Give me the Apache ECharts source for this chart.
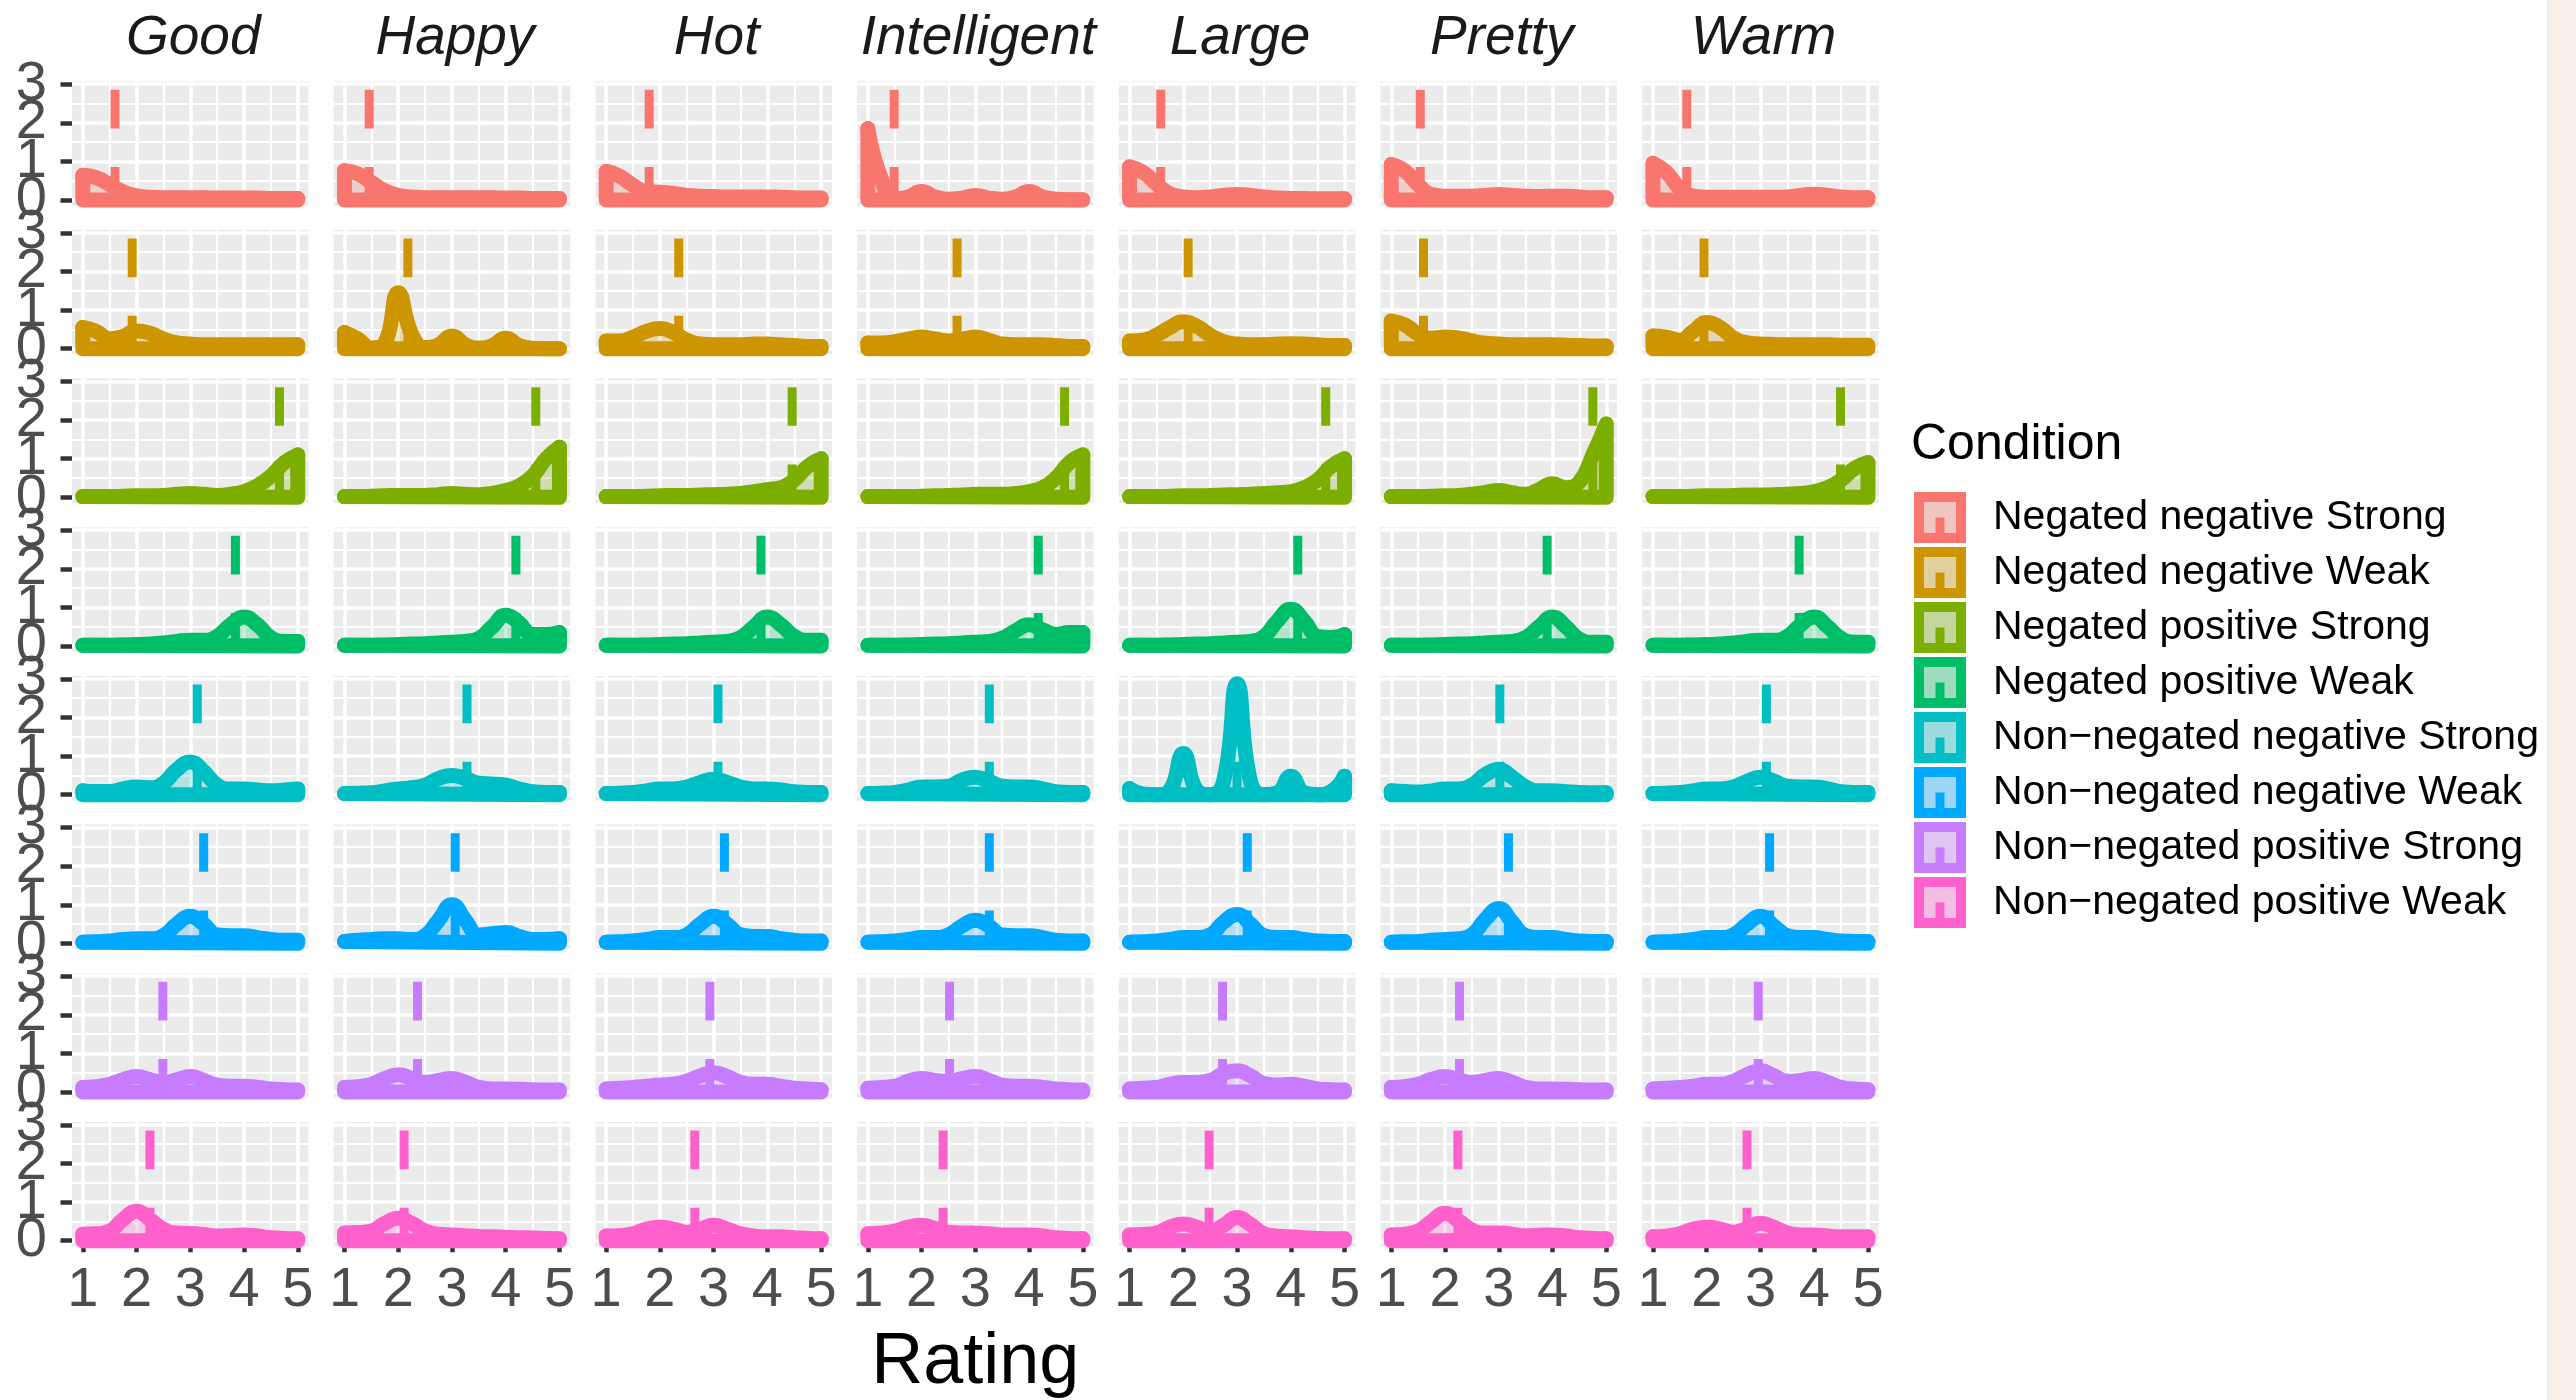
<!DOCTYPE html>
<html><head><meta charset="utf-8">
<script src="https://cdn.jsdelivr.net/npm/echarts@6/dist/echarts.min.js"></script>
<style>html,body{margin:0;padding:0;background:#fff}#c{width:2576px;height:1400px}</style>
</head><body><div id="c"></div>
<script>
const words = ['Good', 'Happy', 'Hot', 'Intelligent', 'Large', 'Pretty', 'Warm'];
const conditions = ['Negated negative Strong', 'Negated negative Weak', 'Negated positive Strong', 'Negated positive Weak',
  'Non\u2212negated negative Strong', 'Non\u2212negated negative Weak', 'Non\u2212negated positive Strong', 'Non\u2212negated positive Weak'];
const conditionColors = ['#F8766D', '#CD9600', '#7CAE00', '#00BE67', '#00BFC4', '#00A9FF', '#C77CFF', '#FF61CC'];
const ratingGrid = [1, 1.25, 1.5, 1.75, 2, 2.25, 2.5, 2.75, 3, 3.25, 3.5, 3.75, 4, 4.25, 4.5, 4.75, 5];
const xTicks = [1, 2, 3, 4, 5];
const yTicks = [0, 1, 2, 3];
const yLabelsEven = [0, 2];
const yLabelsOdd = [1, 3];

// density estimates per word (Good, Happy, Hot, Intelligent, Large, Pretty, Warm) at ratingGrid
const densNegatedNegativeStrong = [
  [0.64,0.58,0.40,0.21,0.11,0.07,0.06,0.06,0.06,0.06,0.05,0.05,0.05,0.05,0.04,0.04,0.04],
  [0.76,0.68,0.46,0.24,0.12,0.08,0.06,0.06,0.06,0.06,0.06,0.06,0.05,0.05,0.04,0.04,0.04],
  [0.74,0.62,0.38,0.22,0.20,0.17,0.12,0.10,0.09,0.08,0.08,0.08,0.08,0.07,0.06,0.05,0.05],
  [1.85,0.55,0.03,0.08,0.22,0.08,0.02,0.05,0.12,0.05,0.02,0.08,0.22,0.08,0.02,0.01,0.01],
  [0.86,0.72,0.42,0.16,0.08,0.06,0.08,0.12,0.14,0.12,0.08,0.05,0.04,0.04,0.03,0.03,0.03],
  [0.92,0.76,0.40,0.14,0.10,0.10,0.10,0.12,0.14,0.12,0.10,0.09,0.10,0.10,0.08,0.06,0.06],
  [0.95,0.72,0.30,0.10,0.07,0.07,0.07,0.07,0.07,0.07,0.08,0.12,0.15,0.12,0.08,0.06,0.06]
];
const densNegatedNegativeWeak = [
  [0.55,0.45,0.26,0.32,0.46,0.40,0.25,0.15,0.12,0.10,0.10,0.10,0.10,0.10,0.10,0.10,0.10],
  [0.42,0.25,0.02,0.15,1.45,0.38,0.03,0.10,0.33,0.10,0.02,0.08,0.27,0.08,0.01,0.00,0.00],
  [0.20,0.20,0.30,0.45,0.52,0.42,0.22,0.12,0.10,0.10,0.10,0.12,0.12,0.10,0.08,0.06,0.06],
  [0.15,0.15,0.18,0.25,0.30,0.25,0.20,0.25,0.30,0.22,0.12,0.10,0.10,0.10,0.08,0.06,0.06],
  [0.20,0.22,0.35,0.55,0.70,0.58,0.35,0.18,0.12,0.10,0.10,0.12,0.13,0.12,0.10,0.08,0.08],
  [0.72,0.62,0.38,0.27,0.30,0.28,0.20,0.14,0.12,0.10,0.10,0.10,0.10,0.09,0.08,0.07,0.07],
  [0.33,0.30,0.22,0.45,0.68,0.55,0.28,0.15,0.12,0.11,0.10,0.10,0.10,0.10,0.09,0.09,0.09]
];
const densNegatedPositiveStrong = [
  [0.02,0.02,0.02,0.03,0.04,0.04,0.05,0.08,0.10,0.08,0.05,0.08,0.15,0.30,0.55,0.90,1.10],
  [0.02,0.02,0.03,0.04,0.05,0.05,0.05,0.07,0.10,0.08,0.07,0.10,0.18,0.30,0.55,1.00,1.30],
  [0.02,0.02,0.02,0.03,0.04,0.05,0.05,0.06,0.07,0.08,0.10,0.15,0.20,0.25,0.45,0.80,1.00],
  [0.02,0.02,0.02,0.02,0.03,0.04,0.05,0.06,0.08,0.08,0.08,0.10,0.15,0.25,0.50,0.90,1.10],
  [0.02,0.02,0.02,0.03,0.04,0.04,0.05,0.06,0.07,0.08,0.10,0.12,0.15,0.25,0.45,0.80,1.00],
  [0.02,0.02,0.02,0.03,0.04,0.05,0.08,0.13,0.18,0.12,0.08,0.20,0.35,0.25,0.40,1.10,1.90],
  [0.02,0.02,0.02,0.03,0.04,0.04,0.05,0.06,0.06,0.07,0.08,0.10,0.15,0.25,0.45,0.75,0.90]
];
const densNegatedPositiveWeak = [
  [0.02,0.02,0.02,0.03,0.04,0.05,0.08,0.12,0.15,0.15,0.25,0.55,0.75,0.55,0.22,0.12,0.12],
  [0.02,0.02,0.02,0.03,0.04,0.05,0.06,0.08,0.10,0.12,0.20,0.50,0.80,0.60,0.30,0.30,0.35],
  [0.02,0.02,0.02,0.03,0.04,0.05,0.06,0.08,0.10,0.12,0.22,0.50,0.75,0.55,0.25,0.15,0.15],
  [0.02,0.02,0.02,0.03,0.04,0.05,0.06,0.08,0.10,0.12,0.20,0.40,0.55,0.42,0.30,0.35,0.35],
  [0.02,0.02,0.02,0.03,0.04,0.05,0.06,0.08,0.10,0.12,0.25,0.65,0.95,0.65,0.25,0.22,0.30],
  [0.02,0.02,0.02,0.03,0.04,0.05,0.06,0.08,0.10,0.12,0.22,0.50,0.75,0.50,0.18,0.10,0.10],
  [0.02,0.02,0.02,0.03,0.04,0.05,0.08,0.12,0.15,0.15,0.25,0.55,0.75,0.50,0.20,0.10,0.10]
];
const densNonNegatedNegativeStrong = [
  [0.10,0.08,0.08,0.15,0.20,0.18,0.30,0.65,0.85,0.60,0.25,0.15,0.15,0.12,0.10,0.12,0.15],
  [0.03,0.04,0.05,0.10,0.15,0.18,0.25,0.42,0.50,0.42,0.30,0.28,0.25,0.15,0.08,0.06,0.06],
  [0.03,0.04,0.06,0.10,0.15,0.15,0.20,0.32,0.40,0.32,0.20,0.15,0.15,0.12,0.08,0.06,0.06],
  [0.03,0.04,0.06,0.12,0.20,0.20,0.22,0.38,0.45,0.35,0.22,0.20,0.20,0.15,0.08,0.06,0.06],
  [0.16,0.02,0.00,0.12,1.07,0.12,0.00,0.35,2.87,0.35,0.00,0.05,0.48,0.05,0.00,0.08,0.48],
  [0.10,0.08,0.07,0.10,0.15,0.15,0.25,0.52,0.65,0.45,0.20,0.10,0.10,0.08,0.06,0.05,0.05],
  [0.03,0.04,0.06,0.10,0.15,0.15,0.20,0.35,0.45,0.35,0.22,0.20,0.20,0.15,0.08,0.06,0.06]
];
const densNonNegatedNegativeWeak = [
  [0.03,0.04,0.06,0.10,0.12,0.12,0.20,0.50,0.70,0.50,0.22,0.20,0.20,0.15,0.10,0.08,0.08],
  [0.05,0.08,0.10,0.12,0.12,0.10,0.20,0.60,1.00,0.60,0.22,0.25,0.28,0.18,0.10,0.10,0.12],
  [0.03,0.04,0.06,0.10,0.15,0.15,0.22,0.50,0.70,0.50,0.22,0.18,0.18,0.12,0.08,0.06,0.06],
  [0.03,0.04,0.06,0.10,0.15,0.15,0.22,0.45,0.60,0.45,0.22,0.20,0.20,0.15,0.08,0.06,0.06],
  [0.03,0.04,0.06,0.10,0.15,0.15,0.22,0.55,0.75,0.50,0.20,0.15,0.15,0.10,0.06,0.05,0.05],
  [0.03,0.04,0.05,0.08,0.10,0.12,0.22,0.62,0.90,0.55,0.20,0.15,0.15,0.10,0.06,0.05,0.05],
  [0.03,0.04,0.06,0.10,0.15,0.15,0.22,0.50,0.70,0.45,0.20,0.15,0.15,0.10,0.06,0.05,0.05]
];
const densNonNegatedPositiveStrong = [
  [0.12,0.14,0.20,0.32,0.40,0.32,0.25,0.32,0.40,0.30,0.18,0.15,0.15,0.12,0.08,0.06,0.05],
  [0.12,0.14,0.20,0.35,0.45,0.35,0.25,0.30,0.35,0.25,0.12,0.08,0.08,0.07,0.06,0.05,0.05],
  [0.08,0.10,0.12,0.15,0.18,0.20,0.28,0.42,0.50,0.40,0.25,0.20,0.20,0.15,0.10,0.08,0.06],
  [0.10,0.12,0.15,0.28,0.35,0.30,0.28,0.35,0.40,0.30,0.18,0.15,0.15,0.12,0.08,0.06,0.05],
  [0.08,0.10,0.12,0.20,0.25,0.25,0.30,0.48,0.55,0.42,0.22,0.18,0.20,0.15,0.08,0.06,0.05],
  [0.12,0.14,0.20,0.33,0.40,0.32,0.25,0.30,0.35,0.25,0.12,0.08,0.08,0.07,0.06,0.05,0.05],
  [0.08,0.10,0.12,0.15,0.20,0.20,0.28,0.45,0.55,0.42,0.28,0.30,0.35,0.25,0.12,0.08,0.06]
];
const densNonNegatedPositiveWeak = [
  [0.17,0.18,0.25,0.55,0.76,0.55,0.30,0.20,0.19,0.16,0.12,0.13,0.15,0.12,0.08,0.06,0.05],
  [0.20,0.21,0.25,0.45,0.58,0.45,0.25,0.17,0.15,0.13,0.11,0.10,0.09,0.08,0.07,0.06,0.05],
  [0.12,0.13,0.18,0.30,0.35,0.30,0.22,0.30,0.40,0.30,0.18,0.12,0.10,0.10,0.08,0.06,0.05],
  [0.18,0.20,0.25,0.35,0.40,0.32,0.22,0.20,0.20,0.18,0.15,0.15,0.15,0.12,0.08,0.06,0.05],
  [0.15,0.16,0.20,0.35,0.43,0.35,0.25,0.40,0.60,0.42,0.18,0.12,0.10,0.08,0.06,0.05,0.05],
  [0.15,0.17,0.25,0.50,0.71,0.52,0.28,0.20,0.20,0.17,0.13,0.14,0.15,0.12,0.08,0.06,0.05],
  [0.10,0.12,0.18,0.30,0.35,0.30,0.22,0.32,0.45,0.35,0.20,0.15,0.15,0.12,0.10,0.10,0.10]
];

// mean rating per word
const meanNegatedNegativeStrong = [1.60, 1.46, 1.80, 1.49, 1.58, 1.54, 1.63];
const meanNegatedNegativeWeak = [1.92, 2.18, 2.35, 2.66, 2.09, 1.60, 1.95];
const meanNegatedPositiveStrong = [4.66, 4.56, 4.46, 4.66, 4.65, 4.75, 4.49];
const meanNegatedPositiveWeak = [3.84, 4.19, 3.88, 4.17, 4.13, 3.90, 3.72];
const meanNonNegatedNegativeStrong = [3.13, 3.28, 3.08, 3.26, 3.00, 3.02, 3.11];
const meanNonNegatedNegativeWeak = [3.25, 3.06, 3.20, 3.26, 3.19, 3.18, 3.17];
const meanNonNegatedPositiveStrong = [2.49, 2.36, 2.93, 2.52, 2.73, 2.27, 2.96];
const meanNonNegatedPositiveWeak = [2.25, 2.11, 2.65, 2.40, 2.48, 2.24, 2.75];

const densities = [densNegatedNegativeStrong, densNegatedNegativeWeak, densNegatedPositiveStrong, densNegatedPositiveWeak,
  densNonNegatedNegativeStrong, densNonNegatedNegativeWeak, densNonNegatedPositiveStrong, densNonNegatedPositiveWeak];
const means = [meanNegatedNegativeStrong, meanNegatedNegativeWeak, meanNegatedPositiveStrong, meanNegatedPositiveWeak,
  meanNonNegatedNegativeStrong, meanNonNegatedNegativeWeak, meanNonNegatedPositiveStrong, meanNonNegatedPositiveWeak];

// ---------- layout / style ----------
const FONT = '"Liberation Sans", Arial, Helvetica, sans-serif';
const X_MIN = 0.8, X_MAX = 5.2, Y_MIN = -0.147, Y_MAX = 3.077;
const PANEL_LEFT = 72, PANEL_W = 236.5, COL_PITCH = 261.7;
const PANEL_TOP = 81.2, PANEL_H = 124.5, ROW_PITCH = 148.67;
const UNIT_PX = PANEL_H / (Y_MAX - Y_MIN);
const LEG_LEFT = 1914, LEG_TOP = 492, LEG_ICON_W = 42, LEG_ICON_H = 41, LEG_GAP = 4, LEG_BORDER = 10;
const BG = [235, 235, 235];
function hexToRgb(h) { return [parseInt(h.slice(1,3),16), parseInt(h.slice(3,5),16), parseInt(h.slice(5,7),16)]; }
function blend(h, a) { const c = hexToRgb(h); return 'rgb(' + c.map((v, i) => Math.round(BG[i] + a * (v - BG[i]))).join(',') + ')'; }
function rgba(h, a) { const c = hexToRgb(h); return 'rgba(' + c.join(',') + ',' + a + ')'; }

const Y_LABEL_STYLE = { fontSize: 56, color: '#4D4D4D', margin: 25, fontFamily: FONT, interval: 0,
  showMinLabel: true, showMaxLabel: true, hideOverlap: false };

const grids = [], xAxes = [], yAxes = [], extraYAxes = [], series = [], graphics = [];
const nRows = conditions.length, nCols = words.length;
for (let r = 0; r < nRows; r++) {
  for (let c = 0; c < nCols; c++) {
    const idx = r * nCols + c;
    const color = conditionColors[r];
    grids.push({ left: PANEL_LEFT + c * COL_PITCH, top: PANEL_TOP + r * ROW_PITCH, width: PANEL_W, height: PANEL_H,
      show: true, backgroundColor: '#EBEBEB', borderWidth: 0, containLabel: false });
    const bottomRow = r === nRows - 1, leftCol = c === 0;
    xAxes.push({ gridIndex: idx, type: 'value', min: X_MIN, max: X_MAX, minInterval: 1, maxInterval: 1,
      axisLine: { show: false },
      axisTick: { show: bottomRow, customValues: xTicks, length: 11.5, lineStyle: { color: '#333333', width: 4.5 } },
      axisLabel: { show: bottomRow, customValues: xTicks, interval: 0, showMinLabel: true, showMaxLabel: true, hideOverlap: false,
        fontSize: 56, color: '#4D4D4D', margin: 16, fontFamily: FONT },
      splitLine: { show: true, lineStyle: { color: '#FFFFFF', width: 3.5 } },
      minorTick: { show: false, splitNumber: 2 },
      minorSplitLine: { show: true, lineStyle: { color: '#FFFFFF', width: 2.2 } } });
    yAxes.push({ gridIndex: idx, type: 'value', position: 'left', min: Y_MIN, max: Y_MAX, minInterval: 1, maxInterval: 1,
      axisLine: { show: false },
      axisTick: { show: leftCol, customValues: yTicks, length: 11.5, lineStyle: { color: '#333333', width: 4.5 } },
      axisLabel: Object.assign({ show: leftCol, customValues: yLabelsEven }, Y_LABEL_STYLE),
      splitLine: { show: true, lineStyle: { color: '#FFFFFF', width: 3.5 } },
      minorTick: { show: false, splitNumber: 2 },
      minorSplitLine: { show: true, lineStyle: { color: '#FFFFFF', width: 2.2 } } });
    if (leftCol) {
      // companion axis carrying the odd tick labels (labels 1 and 3 sit too close to 0 and 2 for one axis)
      extraYAxes.push({ gridIndex: idx, type: 'value', position: 'left', offset: 0, min: Y_MIN, max: Y_MAX,
        minInterval: 1, maxInterval: 1,
        axisLine: { show: false }, axisTick: { show: false, customValues: yLabelsOdd },
        axisLabel: Object.assign({ show: true, customValues: yLabelsOdd }, Y_LABEL_STYLE),
        splitLine: { show: false }, minorSplitLine: { show: false } });
    }
    const d = densities[r][c];
    const n = ratingGrid.length;
    // density curve with fill
    series.push({ type: 'line', name: conditions[r], xAxisIndex: idx, yAxisIndex: idx,
      data: ratingGrid.map((x, i) => [x, d[i]]), smooth: 0.5, symbol: 'none', silent: true,
      lineStyle: { color: color, width: 15, cap: 'round', join: 'round' },
      itemStyle: { color: color },
      areaStyle: { color: rgba(color, 0.33), origin: 'auto' }, z: 2 });
    // closing outline of the density polygon (sides and base)
    series.push({ type: 'line', xAxisIndex: idx, yAxisIndex: idx,
      data: [[ratingGrid[0], d[0]], [ratingGrid[0], 0], [ratingGrid[n - 1], 0], [ratingGrid[n - 1], d[n - 1]]],
      smooth: false, symbol: 'none', silent: true,
      lineStyle: { color: color, width: 15, cap: 'round', join: 'round' }, z: 3 });
    // dashed mean line
    const m = means[r][c];
    series.push({ type: 'line', xAxisIndex: idx, yAxisIndex: idx,
      data: [[m, Y_MIN], [m, Y_MAX]], symbol: 'none', silent: true,
      lineStyle: { color: color, width: 9, type: [UNIT_PX, UNIT_PX], cap: 'butt' }, z: 4 });
  }
}

// strip labels (column facets)
words.forEach((w, c) => {
  graphics.push({ type: 'text', silent: true, style: { text: w, x: PANEL_LEFT + c * COL_PITCH + PANEL_W / 2 + 3, y: 39,
    textAlign: 'center', textVerticalAlign: 'middle', verticalAlign: 'middle',
    font: 'italic 55px ' + FONT, fill: '#1A1A1A' } });
});
// x-axis title
graphics.push({ type: 'text', silent: true, style: { text: 'Rating', x: PANEL_LEFT + (6 * COL_PITCH + PANEL_W) / 2, y: 1363,
  textAlign: 'center', textVerticalAlign: 'middle', verticalAlign: 'middle', font: '72px ' + FONT, fill: '#000000' } });
// legend title
graphics.push({ type: 'text', silent: true, style: { text: 'Condition', x: 1911, y: 445,
  textAlign: 'left', textVerticalAlign: 'middle', verticalAlign: 'middle', font: '50px ' + FONT, fill: '#000000' } });
// mean-line glyph inside each legend key
const LEG_PITCH = LEG_ICON_H + LEG_BORDER + LEG_GAP;
conditions.forEach((name, i) => {
  const cy = LEG_TOP + i * LEG_PITCH + (LEG_ICON_H + LEG_BORDER) / 2;
  const cx = LEG_LEFT + (LEG_ICON_W + LEG_BORDER) / 2;
  graphics.push({ type: 'rect', silent: true, z: 100,
    shape: { x: cx - 4.5, y: cy, width: 9, height: LEG_ICON_H / 2 },
    style: { fill: conditionColors[i] } });
});
// right page edge band
graphics.push({ type: 'rect', silent: true, shape: { x: 2547, y: 0, width: 29, height: 1400 }, style: { fill: '#F5EFE7' } });

const chart = echarts.init(document.getElementById('c'), null, { renderer: 'canvas' });
chart.setOption({
  animation: false,
  backgroundColor: '#FFFFFF',
  grid: grids, xAxis: xAxes, yAxis: yAxes.concat(extraYAxes), series: series,
  legend: { orient: 'vertical', left: LEG_LEFT, top: LEG_TOP, padding: 0, itemWidth: LEG_ICON_W, itemHeight: LEG_ICON_H,
    itemGap: LEG_GAP, icon: 'rect', selectedMode: false,
    textStyle: { fontSize: 41, color: '#000000', fontFamily: FONT, padding: [0, 0, 0, 27], lineHeight: 41 },
    data: conditions.map((name, i) => ({ name: name, icon: 'rect',
      itemStyle: { color: blend(conditionColors[i], 0.33), borderColor: conditionColors[i], borderWidth: LEG_BORDER } })) },
  graphic: graphics
});
</script></body></html>
